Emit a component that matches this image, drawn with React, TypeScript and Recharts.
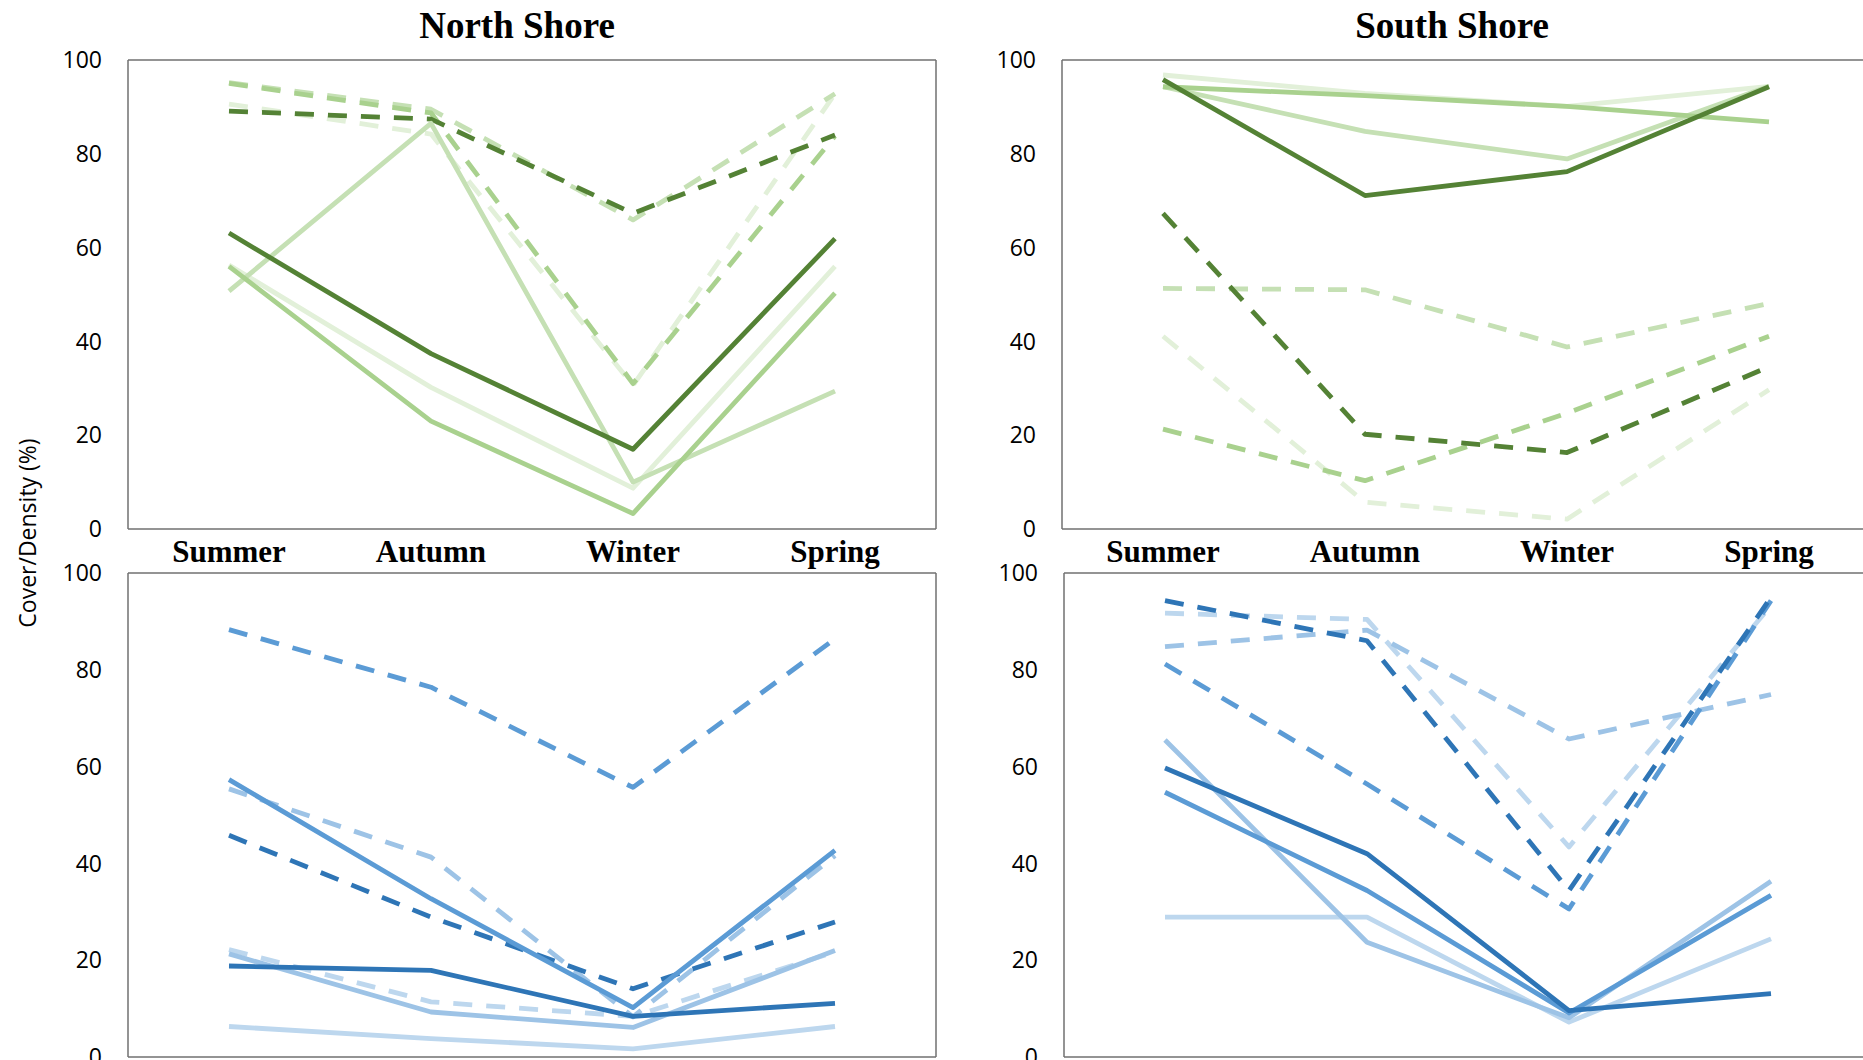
import { LineChart, Line, XAxis, YAxis } from 'recharts';

const seasons = ['Summer', 'Autumn', 'Winter', 'Spring'];
const yTicks = [0, 20, 40, 60, 80, 100];

// North Shore
const northSolidDark = [63.1, 37.4, 17.0, 61.9];
const northSolidMid = [56.0, 23.0, 3.3, 50.3];
const northSolidLight = [50.7, 86.5, 10.0, 29.4];
const northSolidPale = [56.3, 30.2, 8.7, 56.0];
const northDashDark = [89.1, 87.4, 67.3, 84.0];
const northDashMid = [95.0, 88.7, 31.0, 83.8];
const northDashLight = [95.2, 89.5, 65.9, 92.8];
const northDashPale = [90.6, 84.2, 30.6, 92.8];

// South Shore
const southSolidDark = [95.8, 71.1, 76.2, 94.3];
const southSolidMid = [94.3, 92.4, 90.1, 86.8];
const southSolidLight = [94.3, 84.8, 78.9, 94.4];
const southSolidPale = [96.8, 92.9, 90.1, 94.4];
const southDashDark = [67.3, 20.2, 16.3, 34.6];
const southDashMid = [21.3, 10.3, 24.7, 41.1];
const southDashLight = [51.3, 51.0, 38.8, 48.1];
const southDashPale = [41.1, 5.7, 2.1, 29.7];

// North Shore, lower panel
const northLowSolidDark = [18.8, 17.9, 8.4, 11.1];
const northLowSolidMid = [57.3, 32.7, 10.2, 42.7];
const northLowSolidLight = [21.3, 9.3, 6.1, 22.0];
const northLowSolidPale = [6.3, 3.8, 1.7, 6.3];
const northLowDashDark = [45.8, 28.9, 14.1, 27.9];
const northLowDashMid = [88.3, 76.4, 55.7, 86.4];
const northLowDashLight = [55.4, 41.3, 8.3, 41.6];
const northLowDashPale = [22.2, 11.4, 8.4, 21.7];

// South Shore, lower panel
const southLowSolidDark = [59.7, 42.0, 9.6, 13.1];
const southLowSolidMid = [54.7, 34.4, 9.1, 33.4];
const southLowSolidLight = [65.5, 23.7, 8.1, 36.3];
const southLowSolidPale = [28.9, 28.9, 7.2, 24.4];
const southLowDashDark = [94.3, 86.0, 34.4, 95.0];
const southLowDashMid = [81.2, 56.4, 30.6, 94.3];
const southLowDashLight = [84.8, 88.2, 65.7, 74.9];
const southLowDashPale = [91.7, 90.4, 43.4, 93.3];

const greens = { dark: '#548235', mid: '#A9D18E', light: '#C5E0B4', pale: '#E2F0D9' };
const blues = { dark: '#2E75B6', mid: '#5B9BD5', light: '#9DC3E6', pale: '#BDD7EE' };

type Series = { key: string; values: number[]; color: string; dashed: boolean };

function buildRows(series: Series[]) {
  return seasons.map((season, i) => {
    const row: Record<string, string | number> = { season };
    series.forEach((s) => {
      row[s.key] = s.values[i];
    });
    return row;
  });
}

function shadeSeries(
  prefix: string,
  palette: typeof greens,
  solid: number[][],
  dashed: number[][]
): Series[] {
  const shades = ['pale', 'light', 'mid', 'dark'] as const;
  const out: Series[] = [];
  shades.forEach((sh, i) => {
    out.push({ key: `${prefix}-d-${sh}`, values: dashed[i], color: palette[sh], dashed: true });
  });
  shades.forEach((sh, i) => {
    out.push({ key: `${prefix}-s-${sh}`, values: solid[i], color: palette[sh], dashed: false });
  });
  return out;
}

const northTop = shadeSeries(
  'nt',
  greens,
  [northSolidPale, northSolidLight, northSolidMid, northSolidDark],
  [northDashPale, northDashLight, northDashMid, northDashDark]
);
const southTop = shadeSeries(
  'st',
  greens,
  [southSolidPale, southSolidLight, southSolidMid, southSolidDark],
  [southDashPale, southDashLight, southDashMid, southDashDark]
);
const northBottom = shadeSeries(
  'nb',
  blues,
  [northLowSolidPale, northLowSolidLight, northLowSolidMid, northLowSolidDark],
  [northLowDashPale, northLowDashLight, northLowDashMid, northLowDashDark]
);
const southBottom = shadeSeries(
  'sb',
  blues,
  [southLowSolidPale, southLowSolidLight, southLowSolidMid, southLowSolidDark],
  [southLowDashPale, southLowDashLight, southLowDashMid, southLowDashDark]
);

const frame = { stroke: '#707070', strokeWidth: 1.5 };

function Panel({
  series,
  left,
  top,
  height,
  showSeasons,
}: {
  series: Series[];
  left: number;
  top: number;
  height: number;
  showSeasons: boolean;
}) {
  const data = buildRows(series);
  return (
    <div style={{ position: 'absolute', left, top }}>
      {/* 1px top/right axes only carry the plot frame */}
      <LineChart width={966} height={height} data={data} margin={{ top: 59, right: 29, bottom: 0, left: 0 }}>
        <XAxis
          dataKey="season"
          height={71}
          interval={0}
          padding={{ left: 101, right: 101 }}
          tickLine={false}
          tickSize={0}
          tickMargin={11}
          axisLine={frame}
          tick={showSeasons ? { fill: '#000', fontSize: 31, fontFamily: 'Liberation Serif', fontWeight: 'bold' } : false}
        />
        <XAxis xAxisId="top" orientation="top" dataKey="season" height={1} tick={false} tickLine={false} axisLine={frame} />
        <YAxis
          type="number"
          domain={[0, 100]}
          ticks={yTicks}
          width={128}
          tickLine={false}
          tickSize={0}
          tickMargin={26}
          axisLine={frame}
          tick={{ fill: '#000', fontSize: 23, fontFamily: 'Open Sans' }}
        />
        <YAxis yAxisId="right" orientation="right" type="number" domain={[0, 100]} width={1} tick={false} tickLine={false} axisLine={frame} />
        {series.map((s) => (
          <Line
            key={s.key}
            dataKey={s.key}
            stroke={s.color}
            strokeWidth={4.8}
            strokeDasharray={s.dashed ? '19 14' : undefined}
            strokeLinejoin="round"
            dot={false}
            activeDot={false}
            isAnimationActive={false}
          />
        ))}
      </LineChart>
    </div>
  );
}

const titleStyle: React.CSSProperties = {
  position: 'absolute',
  top: 4,
  width: 400,
  textAlign: 'center',
  fontFamily: 'Liberation Serif',
  fontWeight: 'bold',
  fontSize: 37,
  lineHeight: '44px',
  color: '#000',
};

export default function App() {
  return (
    <div style={{ position: 'absolute', left: 0, top: 0, width: 1863, height: 1060, overflow: 'hidden', background: '#fff' }}>
      <Panel series={northTop} left={0} top={0} height={600} showSeasons />
      <Panel series={southTop} left={934} top={0} height={600} showSeasons />
      <Panel series={northBottom} left={0} top={513} height={615} showSeasons={false} />
      <Panel series={southBottom} left={936} top={513} height={615} showSeasons={false} />
      <div style={{ ...titleStyle, left: 317 }}>North Shore</div>
      <div style={{ ...titleStyle, left: 1252 }}>South Shore</div>
      <div
        style={{
          position: 'absolute',
          left: 27,
          top: 533,
          transform: 'translate(-50%, -50%) rotate(-90deg)',
          whiteSpace: 'nowrap',
          fontFamily: 'Open Sans',
          fontSize: 23,
          color: '#000',
        }}
      >
        Cover/Density (%)
      </div>
    </div>
  );
}
